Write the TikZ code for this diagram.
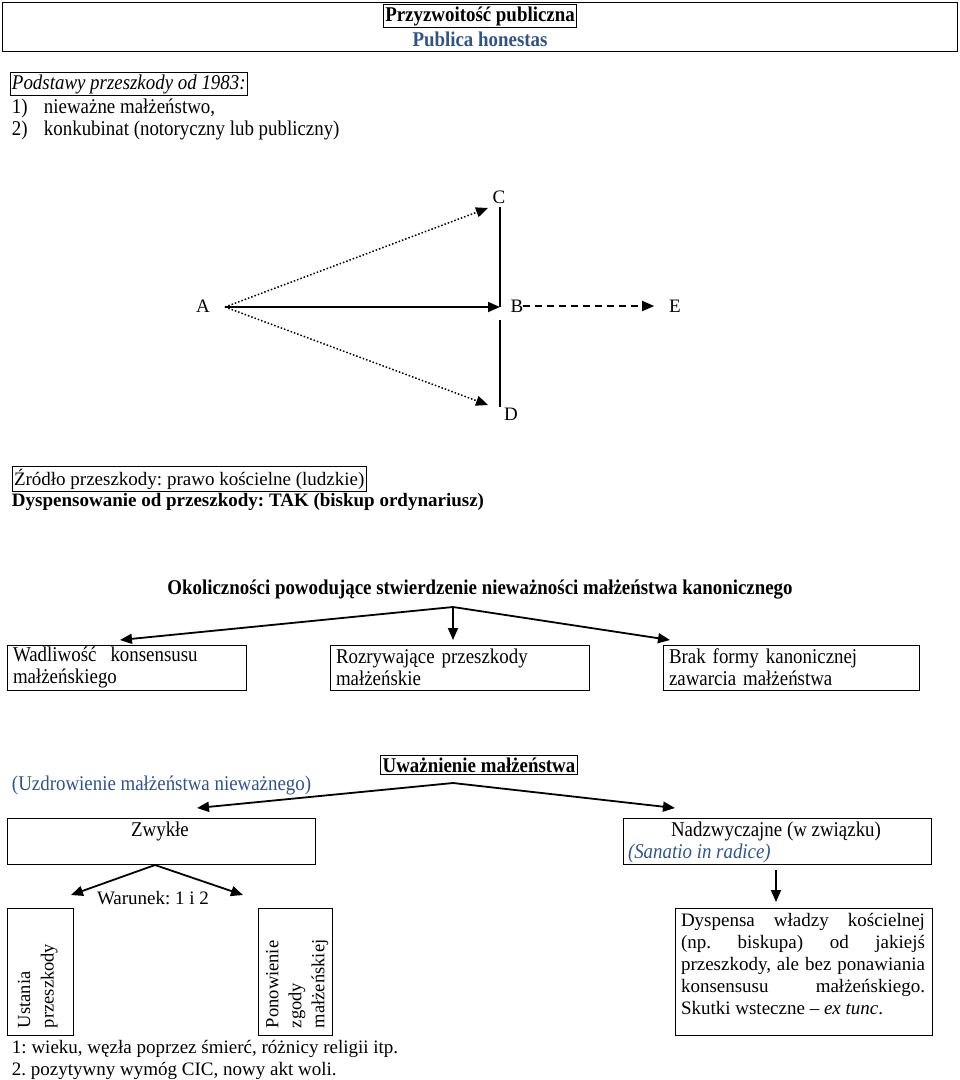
\documentclass[tikz,border=0pt]{standalone}
\usepackage{fontspec}
\setmainfont{Liberation Serif}
\newfontfamily\narrow[FakeStretch=0.9]{Liberation Serif}
\usetikzlibrary{arrows.meta}
\definecolor{hblue}{RGB}{52,84,128}
\newcommand\regf{\fontsize{19}{22}\selectfont}
\newcommand\narf{\fontsize{21}{22}\selectfont\narrow}
\frenchspacing
\begin{document}
\begin{tikzpicture}[x=1pt,y=-1pt,
  every node/.style={inner sep=0pt, outer sep=0pt, font=\regf},
  box/.style={draw, line width=0.9pt, anchor=north west},
  tbox/.style={draw, line width=0.9pt, inner xsep=2pt, inner ysep=2pt},
  nar/.style={font=\narf},
  arr/.style={line width=1.8pt, -{Triangle[length=12pt,width=10pt]}},
  dotarr/.style={line width=1.5pt, dotted, -{Triangle[length=12pt,width=10pt]}},
  dasharr/.style={line width=1.8pt, dash pattern=on 7pt off 5pt, -{Triangle[length=12pt,width=10pt]}},
  plain/.style={line width=1.5pt}]
\useasboundingbox (0,0) rectangle (960,1080);

% header
\node[box, minimum width=955, minimum height=49] (top) at (2,2) {};
\node[tbox, font=\narf\bfseries] (title) at (480,16) {Przyzwoitość publiczna};
\node[font=\narf\bfseries, text=hblue] (sub) at (480,39) {Publica honestas};

\node[tbox, anchor=west, font=\narf\itshape] (pod) at (10,84) {Podstawy przeszkody od 1983:};
\node[nar, anchor=west] (l1) at (12,108) {\makebox[32pt][l]{1)}nieważne małżeństwo,};
\node[nar, anchor=west] (l2) at (12,130) {\makebox[32pt][l]{2)}konkubinat (notoryczny lub publiczny)};

% A B C D E
\node (A) at (203,306) {A};
\node (B) at (517,306) {B};
\node (C) at (499,197) {C};
\node (D) at (511,414) {D};
\node (E) at (675,306) {E};
\coordinate (vtop) at (500,207);
\coordinate (vmid) at (500,307);
\coordinate (vlow) at (500,320);
\coordinate (vbot) at (500,407);
\coordinate (as) at (225,307);
\coordinate (ct) at (488,208);
\coordinate (dt) at (488,405);
\draw[plain] (vtop) -- (vmid);
\draw[plain] (vlow) -- (vbot);
\draw[arr] (as) -- (vmid);
\draw[dotarr] (as) -- (ct);
\draw[dotarr] (as) -- (dt);
\draw[dasharr] (B.east) -- ([xshift=-15pt]E.west);

% source
\node[tbox, anchor=west] (zr) at (12,479) {Źródło przeszkody: prawo kościelne (ludzkie)};
\node[anchor=west, font=\regf\bfseries] (dy) at (12,502) {Dyspensowanie od przeszkody: TAK (biskup ordynariusz)};

% circumstances
\node[font=\narf\bfseries] (ok) at (480,590) {Okoliczności powodujące stwierdzenie nieważności małżeństwa kanonicznego};
\coordinate (okc) at (453,607);
\node[box, nar, minimum width=239, minimum height=45, text width=227, inner xsep=6pt, align=left] (wad) at (7,645) {Wadliwość \ konsensusu\\ małżeńskiego};
\node[box, nar, minimum width=259, minimum height=45, text width=247, inner xsep=6pt, align=left] (roz) at (330,645) {Rozrywające przeszkody\\ małżeńskie};
\node[box, nar, minimum width=256, minimum height=45, text width=244, inner xsep=6pt, align=left] (bra) at (663,645) {Brak formy kanonicznej\\ zawarcia małżeństwa};
\coordinate (t1) at (120,640);
\coordinate (t2) at (453,640);
\coordinate (t3) at (670,640);
\draw[arr] (okc) -- (t1);
\draw[arr] (okc) -- (t2);
\draw[arr] (okc) -- (t3);

% convalidation
\node[tbox, font=\narf\bfseries] (uw) at (479,765) {Uważnienie małżeństwa};
\node[nar, anchor=west, text=hblue] (uz) at (12,785) {(Uzdrowienie małżeństwa nieważnego)};
\coordinate (uwc) at (453,783);
\coordinate (u1) at (197,808);
\coordinate (u2) at (675,808);
\draw[arr] (uwc) -- (u1);
\draw[arr] (uwc) -- (u2);

\node[box, minimum width=308, minimum height=46] (zw) at (7,818) {};
\node[nar] (zwt) at (160,831) {Zwykłe};
\node[box, minimum width=308, minimum height=46] (na) at (623,818) {};
\node[nar] (nat) at (776,831) {Nadzwyczajne (w związku)};
\node[anchor=west, text=hblue, font=\narf\itshape] (san) at (628,853) {(Sanatio in radice)};

% ordinary
\coordinate (zc) at (155,865);
\coordinate (w1) at (71,895);
\coordinate (w2) at (243,895);
\draw[arr] (zc) -- (w1);
\draw[arr] (zc) -- (w2);
\node[anchor=west] (war) at (97,898) {Warunek: 1 i 2};
\node[box, minimum width=66, minimum height=127] (ust) at (7,908) {};
\node[rotate=90, anchor=north west, align=left, font=\fontsize{18.5}{23.5}\selectfont] (ustt) at (18,1028) {Ustania\\przeszkody};
\node[box, minimum width=74, minimum height=127] (pon) at (258,908) {};
\node[rotate=90, anchor=north west, align=left, font=\fontsize{18.5}{23}\selectfont] (pont) at (266,1028) {Ponowienie\\zgody\\małżeńskiej};
\node[anchor=west] (n1) at (12,1049) {1: wieku, węzła poprzez śmierć, różnicy religii itp.};
\node[anchor=west] (n2) at (12,1071) {2. pozytywny wymóg CIC, nowy akt woli.};

% extraordinary
\coordinate (nb) at (776,870);
\coordinate (nt) at (776,902);
\draw[arr] (nb) -- (nt);
\node[box, minimum width=257, minimum height=127] (dys) at (675,908) {};
\node[anchor=north west, text width=244, align=justify] (dyst) at (681,913) {Dyspensa władzy kościelnej\linebreak (np. biskupa) od jakiejś\linebreak przeszkody, ale bez ponawiania\linebreak konsensusu małżeńskiego.\linebreak Skutki wsteczne -- \emph{ex tunc}.};
\end{tikzpicture}
\end{document}
